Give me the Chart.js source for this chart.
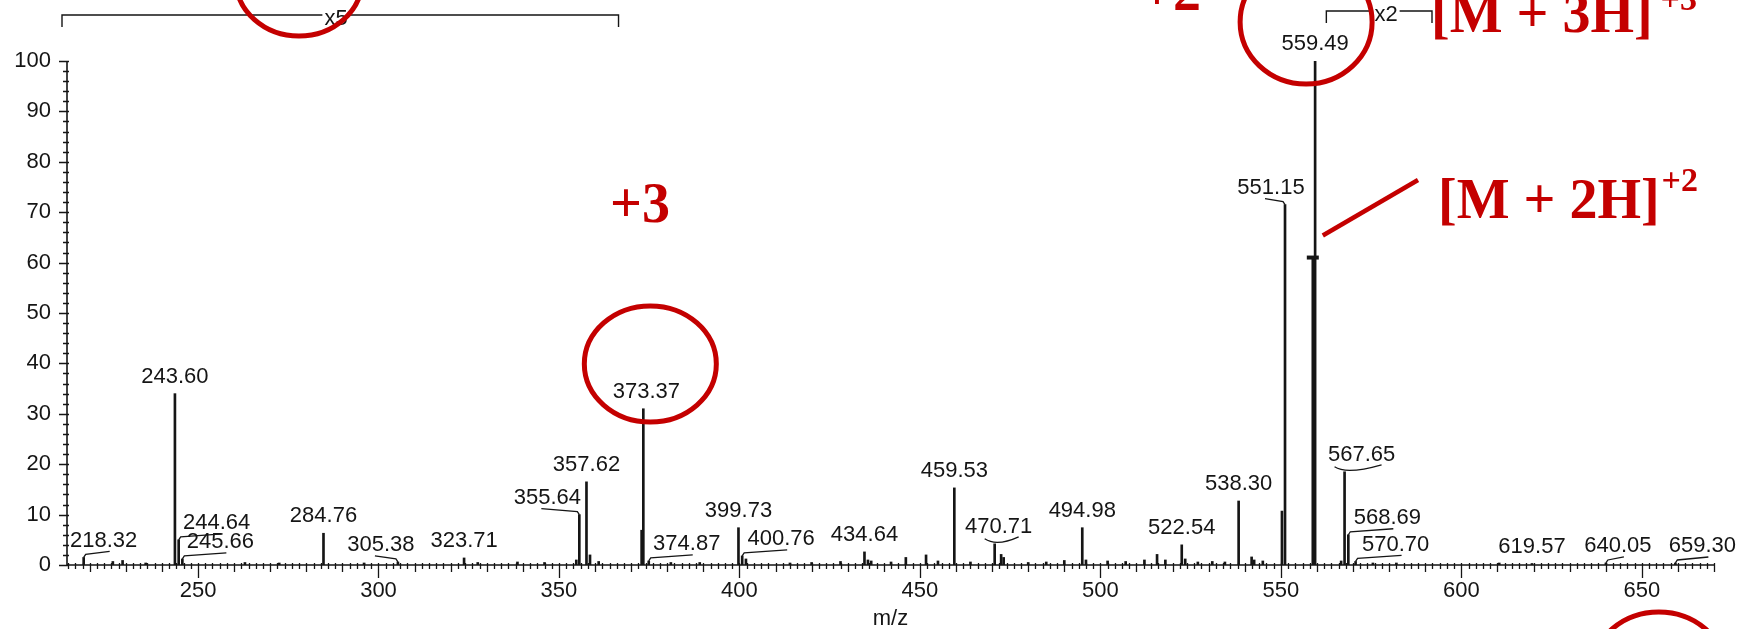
<!DOCTYPE html>
<html>
<head>
<meta charset="utf-8">
<title>ESI mass spectrum</title>
<script src="https://cdn.jsdelivr.net/npm/chart.js@4.4.1/dist/chart.umd.min.js"></script>
<style>
  html, body { margin: 0; padding: 0; background: #fff; }
  #wrap { width: 1737px; height: 629px; position: relative; }
</style>
</head>
<body>
<div id="wrap"><canvas id="spec"></canvas></div>
<script>
// Labelled peaks (m/z, relative abundance %)
const labelMz  = [218.32, 243.60, 244.64, 245.66, 284.76, 305.38, 323.71, 355.64, 357.62, 373.37,
                  374.87, 399.73, 400.76, 434.64, 459.53, 470.71, 494.98, 522.54, 538.30, 551.15,
                  559.49, 567.65, 568.69, 570.70, 619.57, 640.05, 659.30];
const labelInt = [1.5, 34, 5, 1.2, 6.3, 0.6, 1.4, 10, 16.5, 31,
                  0.8, 7.4, 1.8, 2.6, 15.3, 4.2, 7.4, 4.0, 12.7, 71.5,
                  100, 18.5, 6.0, 0.7, 0.3, 0.4, 0.4];
// horizontal shift of each label from its peak (px) and the kind of leader drawn
const labelDx   = [20, 0, 38, 38, 0, -17, 0, -32, 0, 3,
                   38, 0, 39, 0, 0, 4, 0, 0, 0, -14,
                   0, 17, 39, 40, 0, 12, 27];
const labelLead = ['line', 'none', 'line', 'line', 'none', 'line', 'none', 'line', 'none', 'none',
                   'line', 'none', 'line', 'none', 'none', 'brace', 'none', 'none', 'none', 'line',
                   'none', 'brace', 'line', 'line', 'none', 'line', 'line'];

// Unlabelled peaks
const minorMz  = [226.4, 229.1, 235.5, 263.0, 272.5, 296.0, 327.5, 338.5, 346.0, 354.8,
                  358.6, 361.0, 372.9, 381.0, 389.0, 401.8, 414.0, 420.0, 428.0, 435.6,
                  436.5, 442.0, 446.1, 451.7, 455.0, 464.0, 472.5, 473.2, 480.0, 485.0,
                  490.0, 496.0, 502.0, 507.0, 512.2, 515.7, 518.0, 523.5, 527.0, 531.0,
                  534.5, 541.9, 542.6, 545.0, 550.3, 566.7, 575.5, 582.0, 610.5];
const minorInt = [0.7, 0.9, 0.4, 0.5, 0.4, 0.4, 0.5, 0.6, 0.5, 1.0,
                  2.0, 0.7, 6.9, 0.5, 0.5, 1.2, 0.4, 0.5, 0.7, 1.0,
                  0.8, 0.6, 1.5, 2.0, 0.8, 0.6, 2.1, 1.5, 0.5, 0.6,
                  0.9, 1.0, 0.8, 0.7, 1.0, 2.1, 1.0, 1.2, 0.6, 0.7,
                  0.6, 1.6, 1.0, 0.8, 10.7, 0.8, 0.4, 0.4, 0.4];

// [M + 2H]+2 peak, marked on top
const dicationMz = [558.85];
const dicationInt = [61];

const xTickLabels = [250, 300, 350, 400, 450, 500, 550, 600, 650];
const yTickLabels = [0, 10, 20, 30, 40, 50, 60, 70, 80, 90, 100];

const X_MIN = 213.7, X_MAX = 670;
const RED = '#c40000';
const INK = '#151515';
const SANS = '"Liberation Sans", Arial, sans-serif';
const SERIF = '"Liberation Serif", "Times New Roman", serif';

const peaks = labelMz.map((m, i) => ({ x: m, y: labelInt[i] }))
  .concat(minorMz.map((m, i) => ({ x: m, y: minorInt[i] })))
  .concat(dicationMz.map((m, i) => ({ x: m, y: dicationInt[i] })));

function ellipse(ctx, cx, cy, rx, ry) {
  ctx.beginPath();
  ctx.ellipse(cx, cy, rx, ry, 0, 0, Math.PI * 2);
  ctx.stroke();
}

// bracket over a zoomed range, e.g. "x5"
function zoomBracket(ctx, x0, x1, yy, text, tx) {
  ctx.font = '22px ' + SANS;
  const w = ctx.measureText(text).width;
  ctx.beginPath();
  ctx.moveTo(x0, yy + 12); ctx.lineTo(x0, yy); ctx.lineTo(tx - w / 2 - 2, yy);
  ctx.moveTo(tx + w / 2 + 2, yy); ctx.lineTo(x1, yy); ctx.lineTo(x1, yy + 12);
  ctx.stroke();
  ctx.textAlign = 'center';
  ctx.textBaseline = 'middle';
  ctx.fillText(text, tx, yy + 4);
}

const spectrumDecor = {
  id: 'spectrumDecor',
  beforeDatasetsDraw(chart) {
    const { ctx, chartArea: a, scales: { x, y } } = chart;
    ctx.save();
    ctx.strokeStyle = INK;
    ctx.lineWidth = 1.6;
    ctx.beginPath();
    ctx.moveTo(a.left, a.top);
    ctx.lineTo(a.left, a.bottom);
    ctx.lineTo(a.right, a.bottom);
    ctx.stroke();

    // x ticks: every 2, longer every 10, longest every 50
    ctx.lineWidth = 1.3;
    ctx.beginPath();
    for (let v = Math.ceil(X_MIN / 2) * 2; v <= X_MAX; v += 2) {
      const px = Math.round(x.getPixelForValue(v)) + 0.5;
      const len = v % 50 === 0 ? 13 : (v % 10 === 0 ? 7 : 4);
      ctx.moveTo(px, a.bottom - 2);
      ctx.lineTo(px, a.bottom + len);
    }
    // y ticks: every 2, longer every 10
    for (let v = 0; v <= 100; v += 2) {
      const py = Math.round(y.getPixelForValue(v)) + 0.5;
      const len = v % 10 === 0 ? 8 : 4;
      ctx.moveTo(a.left - len, py);
      ctx.lineTo(a.left + 2, py);
    }
    ctx.stroke();
    ctx.restore();
  },
  afterDatasetsDraw(chart) {
    const { ctx, chartArea: a, scales: { x, y } } = chart;
    ctx.save();

    // peak labels with leaders
    ctx.fillStyle = INK;
    ctx.strokeStyle = INK;
    ctx.lineWidth = 1.3;
    ctx.font = '22px ' + SANS;
    ctx.textAlign = 'center';
    ctx.textBaseline = 'middle';
    labelMz.forEach((mz, i) => {
      const px = x.getPixelForValue(mz);
      const py = y.getPixelForValue(labelInt[i]);
      const tx = px + labelDx[i];
      const ty = py - 17;
      if (labelLead[i] === 'line') {
        const s = Math.sign(labelDx[i]);
        ctx.beginPath();
        ctx.moveTo(px, py);
        ctx.lineTo(px + s * 2, py - 3);
        ctx.lineTo(tx + s * 6, py - 6);
        ctx.stroke();
      } else if (labelLead[i] === 'brace') {
        ctx.beginPath();
        ctx.moveTo(px - 10, py - 5);
        ctx.quadraticCurveTo(px + 2, py + 3, tx + 20, py - 7);
        ctx.stroke();
      }
      ctx.fillText(mz.toFixed(2), tx, ty);
    });

    // m/z axis title
    ctx.font = '22px ' + SANS;
    ctx.fillText('m/z', (a.left + a.right) / 2, 619);

    // zoom brackets
    ctx.lineWidth = 1.4;
    zoomBracket(ctx, a.left - 5, x.getPixelForValue(366.5), 15, 'x5', 336);
    zoomBracket(ctx, x.getPixelForValue(562.6), 1432, 11, 'x2', 1386);

    // red annotations
    ctx.strokeStyle = RED;
    ctx.fillStyle = RED;
    ctx.lineWidth = 5;
    ellipse(ctx, 299, -20, 63, 56);
    ellipse(ctx, x.getPixelForValue(559.49) - 9, 22, 66, 62);
    ellipse(ctx, x.getPixelForValue(373.37) + 7, 364, 66, 58);
    ellipse(ctx, x.getPixelForValue(650) + 17, 670, 66, 58);

    const mx = x.getPixelForValue(dicationMz[0]);
    const my = y.getPixelForValue(dicationInt[0]);
    ctx.lineWidth = 4.5;
    ctx.beginPath();
    ctx.moveTo(mx + 10, my - 22);
    ctx.lineTo(1418, 180);
    ctx.stroke();

    ctx.textAlign = 'left';
    ctx.textBaseline = 'alphabetic';
    const ionLabel = (main, sup, lx, base, supGap, supRise) => {
      ctx.font = 'bold 56px ' + SERIF;
      ctx.fillText(main, lx, base);
      const w = ctx.measureText(main).width;
      ctx.font = 'bold 34px ' + SERIF;
      ctx.fillText(sup, lx + w + supGap, base - supRise);
    };
    ionLabel('[M + 2H]', '+2', 1438, 218, 2, 27);
    ionLabel('[M + 3H]', '+3', 1431, 32, 8, 22);

    ctx.font = 'bold 56px ' + SERIF;
    ctx.fillText('+3', 610, 222);
    ctx.fillText('+2', 1141, 10);
    ctx.restore();
  }
};

new Chart(document.getElementById('spec'), {
  type: 'bar',
  data: {
    datasets: [{
      data: peaks,
      backgroundColor: INK,
      borderWidth: 0,
      barThickness: 2,
      grouped: false
    }, {
      type: 'scatter',
      data: dicationMz.map((m, i) => ({ x: m, y: dicationInt[i] })),
      pointStyle: 'line',
      radius: 6,
      borderWidth: 4,
      borderColor: INK
    }]
  },
  options: {
    responsive: true,
    maintainAspectRatio: false,
    animation: false,
    events: [],
    layout: { padding: { top: 61, right: 23, left: 0, bottom: 0 } },
    plugins: { legend: { display: false }, tooltip: { enabled: false } },
    scales: {
      x: {
        type: 'linear',
        offset: false,
        min: X_MIN,
        max: X_MAX,
        grid: { display: false, drawTicks: false, offset: false },
        border: { display: false },
        afterFit: s => { s.height = 64; },
        afterBuildTicks: s => { s.ticks = xTickLabels.map(v => ({ value: v })); },
        ticks: { color: INK, padding: 13, maxRotation: 0, font: { family: SANS, size: 22 } }
      },
      y: {
        min: 0,
        max: 100,
        grid: { display: false, drawTicks: false },
        border: { display: false },
        afterFit: s => { s.width = 67; },
        afterBuildTicks: s => { s.ticks = yTickLabels.map(v => ({ value: v })); },
        ticks: { color: INK, padding: 16, font: { family: SANS, size: 22 } }
      }
    }
  },
  plugins: [spectrumDecor]
});
</script>
</body>
</html>
